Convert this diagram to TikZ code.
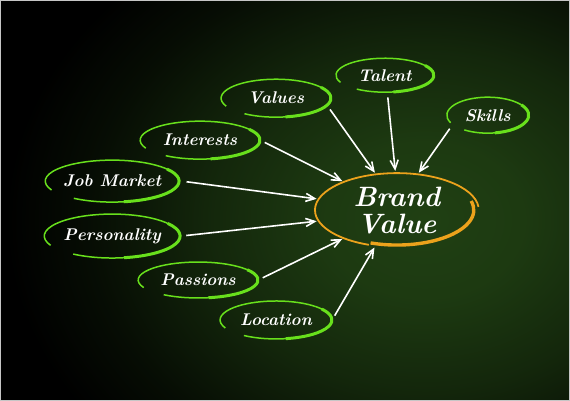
\documentclass[tikz,border=0pt]{standalone}
\usepackage{tikz}
\usetikzlibrary{shapes.geometric,arrows.meta}
\definecolor{leaf}{RGB}{104,224,28}
\definecolor{amber}{RGB}{236,162,28}
\definecolor{board}{RGB}{32,64,19}
\pgfdeclareradialshading{glow}{\pgfpoint{0bp}{0bp}}{color(0bp)=(board); color(6bp)=(board!90!black); color(13bp)=(board!60!black); color(20bp)=(board!20!black); color(25bp)=(black); color(50bp)=(black)}
% hand drawn ring round a named node
\newcommand{\halo}[3]{%
\draw[leaf,line width=1.5pt] ([shift={(235:#2pt and #3pt)}]#1.center) arc[start angle=235,end angle=565,x radius=#2pt,y radius=#3pt];
\draw[leaf,line width=3pt] ([shift={(-80:#2pt and #3pt)}]#1.center) arc[start angle=-80,end angle=35,x radius=#2pt,y radius=#3pt];}

\begin{document}
\begin{tikzpicture}[x=1pt,y=-1pt,
  topic/.style={ellipse, inner sep=0pt, text=white, font=\fontsize{17}{19}\selectfont\bfseries\itshape},
  core/.style={ellipse, inner sep=0pt, text=white, align=center, font=\fontsize{28}{27}\selectfont\bfseries\itshape},
  pointer/.style={white, line width=1.6pt, -{Straight Barb[length=9pt,width=8pt]}, shorten <=5pt, shorten >=4pt}]
\fill[black] (0,0) rectangle (570,400);
\begin{scope}
\clip (0,0) rectangle (570,400);
\shade[shading=glow] (425,220) ellipse (420pt and 330pt);
\end{scope}
\draw[gray!45, line width=0.6pt] (0,0) rectangle (570,400);

\node[core, minimum width=160pt, minimum height=70pt] (brand) at (397,210) {Brand\\Value};
\node[topic, minimum width=98pt, minimum height=34pt] (talent) at (385,75) {Talent};
\node[topic, minimum width=110pt, minimum height=38pt] (values) at (276,98) {Values};
\node[topic, minimum width=82pt, minimum height=36pt] (skills) at (488,115) {Skills};
\node[topic, minimum width=120pt, minimum height=38pt] (interests) at (200,140) {Interests};
\node[topic, minimum width=134pt, minimum height=42pt] (jobmarket) at (112,181) {Job Market};
\node[topic, minimum width=136pt, minimum height=44pt] (personality) at (112,236) {Personality};
\node[topic, minimum width=120pt, minimum height=36pt] (passions) at (198,280) {Passions};
\node[topic, minimum width=112pt, minimum height=38pt] (location) at (276,320) {Location};

\halo{talent}{49}{17}
\halo{values}{55}{19}
\halo{skills}{41}{18}
\halo{interests}{60}{19}
\halo{jobmarket}{67}{21}
\halo{personality}{68}{22}
\halo{passions}{60}{18}
\halo{location}{56}{19}
\draw[amber, line width=1.8pt] ([shift={(5:82pt and 37pt)}]brand.center) arc[start angle=5,end angle=250,x radius=82pt,y radius=37pt];
\draw[amber, line width=3.4pt] ([shift={(-110:77pt and 35pt)}]brand.center) arc[start angle=-110,end angle=15,x radius=77pt,y radius=35pt];

\draw[pointer] (values.-8) -- (brand.120);
\draw[pointer] (talent.-82) -- (brand.92);
\draw[pointer] (skills.195) -- (brand.60);
\draw[pointer] (interests.east) -- (brand.152);
\draw[pointer] (jobmarket.east) -- (brand.172);
\draw[pointer] (personality.east) -- (brand.188);
\draw[pointer] (passions.east) -- (brand.208);
\draw[pointer] (location.east) -- (brand.239);
\end{tikzpicture}
\end{document}
